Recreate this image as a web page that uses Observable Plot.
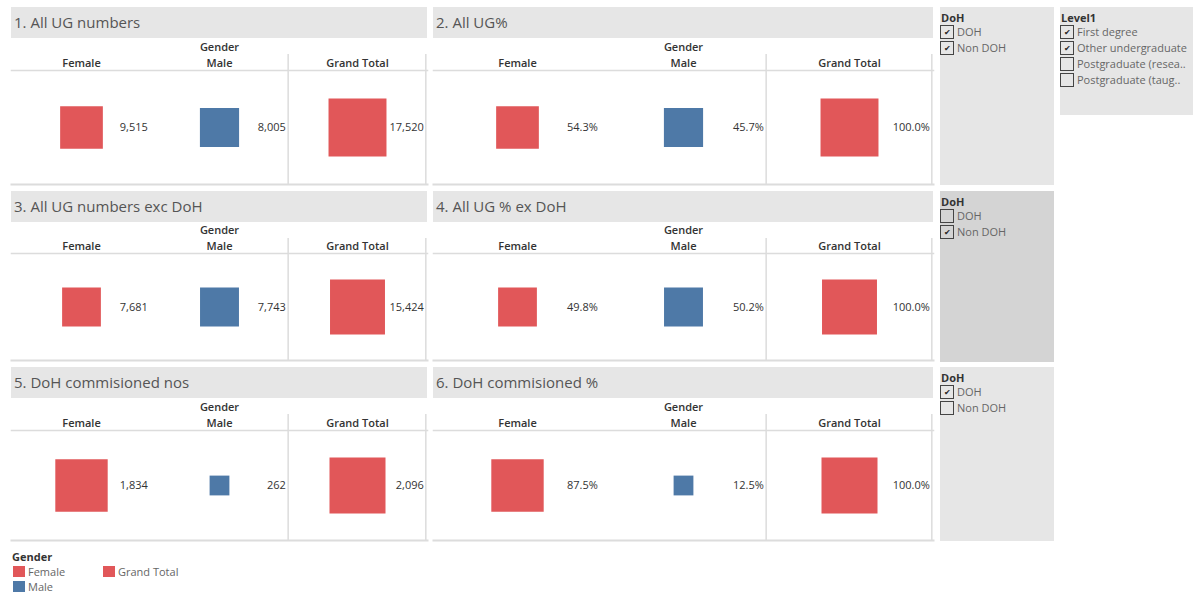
<!DOCTYPE html>
<html>
<head>
<meta charset="utf-8">
<script src="https://cdn.jsdelivr.net/npm/d3@7"></script>
<script src="https://cdn.jsdelivr.net/npm/@observablehq/plot@0.6"></script>
<style>
  html, body { margin: 0; padding: 0; background: #fff; }
  body { width: 1197px; height: 593px; position: relative; overflow: hidden; font-family: "Open Sans", "Noto Sans", sans-serif; }
  .abs { position: absolute; }
  .title { background: #e6e6e6; color: #555; font-size: 15px; line-height: 31px; height: 31px; padding-left: 3px; box-sizing: border-box; white-space: nowrap; }
  .filter { background: #e6e6e6; }
  .ftitle { position: absolute; left: 1px; top: 3px; font-size: 11px; font-weight: 700; color: #333; }
  .item { position: absolute; left: 0; height: 14px; font-size: 11px; color: #666; line-height: 14px; white-space: nowrap; }
  .box { display: inline-block; width: 12px; height: 12px; border: 1px solid #444; vertical-align: top; text-align: center; font-size: 8px; line-height: 12px; color: #222; margin-right: 3px; }
  .leg { font-size: 11px; color: #666; line-height: 13px; }
  .sw { display: inline-block; width: 12px; height: 11px; vertical-align: -1px; margin-right: 3px; }
</style>
</head>
<body>
<script>
// ---- data ----
const columns = ["Female", "Male", "Grand Total"];
const colors = ["#e15759", "#4e79a7", "#e15759"];
const panelTitles = [
  "1. All UG numbers", "2. All UG%",
  "3. All UG numbers exc DoH", "4. All UG % ex DoH",
  "5. DoH commisioned nos", "6. DoH commisioned %"
];
const allUG = [9515, 8005, 17520];
const allUGPct = [54.3, 45.7, 100.0];
const allUGexDoH = [7681, 7743, 15424];
const allUGexDoHPct = [49.8, 50.2, 100.0];
const dohNos = [1834, 262, 2096];
const dohPct = [87.5, 12.5, 100.0];
const panelValues = [allUG, allUGPct, allUGexDoH, allUGexDoHPct, dohNos, dohPct];
const panelIsPct = [false, true, false, true, false, true];

const dohFilterItems = ["DOH", "Non DOH"];
const dohFilterChecked = [[true, true], [false, true], [true, false]];
const level1Items = ["First degree", "Other undergraduate", "Postgraduate (resea..", "Postgraduate (taug.."];
const level1Checked = [true, true, false, false];

// ---- layout ----
const cols = [{left: 11, width: 416}, {left: 433, width: 500}];
const rows = [
  {titleTop: 7, svgTop: 38, hline: 70, vtop: 54, bottom: 185, rMax: 32.7},
  {titleTop: 191, svgTop: 222, hline: 253, vtop: 238, bottom: 361, rMax: 31},
  {titleTop: 367, svgTop: 398, hline: 430, vtop: 414, bottom: 541, rMax: 31.6}
];
const font = '"Open Sans", "Noto Sans", sans-serif';
const lineColor = "#dcdcdc";

function el(tag, cls, style, text) {
  const e = document.createElement(tag);
  if (cls) e.className = cls;
  Object.assign(e.style, style || {});
  if (text != null) e.textContent = text;
  document.body.appendChild(e);
  return e;
}

panelTitles.forEach((title, i) => {
  const r = rows[Math.floor(i / 2)];
  const c = cols[i % 2];
  el("div", "abs title", {left: c.left + "px", top: r.titleTop + "px", width: c.width + "px"}, title);

  const vals = panelValues[i];
  const pct = panelIsPct[i];
  const data = columns.map((col, j) => ({col, value: vals[j], label: pct ? d3.format(".1f")(vals[j]) + "%" : d3.format(",")(vals[j])}));
  const bw = c.width / columns.length;
  const chart = Plot.plot({
    width: c.width,
    height: r.bottom - r.svgTop,
    marginTop: r.hline - r.svgTop,
    marginBottom: 1,
    marginLeft: 0,
    marginRight: 0,
    x: {type: "band", domain: columns, padding: 0, axis: null},
    r: {domain: [0, d3.max(vals)], range: [0, r.rMax]},
    color: {domain: columns, range: colors},
    style: {fontFamily: font, fontSize: "11px", color: "#333", background: "transparent", overflow: "visible"},
    marks: [
      Plot.axisX({anchor: "top", label: "Gender", labelAnchor: "center", labelOffset: 27, tickSize: 0, tickPadding: 4, fontWeight: 600, fill: "#333"}),
      Plot.frame({anchor: "top", stroke: lineColor, strokeWidth: 1.5}),
      Plot.frame({anchor: "bottom", stroke: lineColor, strokeWidth: 2}),
      Plot.ruleX(["Grand Total"], {dx: -bw / 2, insetTop: -(r.hline - r.vtop), stroke: lineColor, strokeWidth: 1.5}),
      Plot.ruleX(["Grand Total"], {dx: bw / 2 - 1, insetTop: -(r.hline - r.vtop), stroke: lineColor, strokeWidth: 1.5}),
      Plot.dot(data, {x: "col", r: "value", fill: "col", symbol: "square", frameAnchor: "middle"}),
      Plot.text(data, {x: "col", text: "label", textAnchor: "end", dx: bw / 2 - 3, frameAnchor: "middle", fill: "#333", fontSize: 11})
    ]
  });
  const wrap = el("div", "abs", {left: c.left + "px", top: r.svgTop + "px"});
  wrap.appendChild(chart);
});

// ---- DoH filters ----
const dohBoxes = [
  {top: 7, height: 178, bg: "#e6e6e6"},
  {top: 191, height: 171, bg: "#d4d4d4"},
  {top: 367, height: 174, bg: "#e6e6e6"}
];
dohBoxes.forEach((b, k) => {
  const box = el("div", "abs filter", {left: "940px", top: b.top + "px", width: "114px", height: b.height + "px", background: b.bg});
  const t = document.createElement("div"); t.className = "ftitle"; t.textContent = "DoH"; box.appendChild(t);
  dohFilterItems.forEach((name, j) => {
    const it = document.createElement("div"); it.className = "item"; it.style.top = (18 + j * 16) + "px";
    it.innerHTML = `<span class="box">${dohFilterChecked[k][j] ? "✔" : ""}</span>${name}`;
    box.appendChild(it);
  });
});
// ---- Level1 filter ----
const lv = el("div", "abs filter", {left: "1060px", top: "7px", width: "133px", height: "108px"});
{
  const t = document.createElement("div"); t.className = "ftitle"; t.textContent = "Level1"; lv.appendChild(t);
  level1Items.forEach((name, j) => {
    const it = document.createElement("div"); it.className = "item"; it.style.top = (18 + j * 16) + "px";
    it.innerHTML = `<span class="box">${level1Checked[j] ? "✔" : ""}</span>${name}`;
    lv.appendChild(it);
  });
}

// ---- Legend ----
el("div", "abs", {left: "12px", top: "549px", fontSize: "11px", fontWeight: "700", color: "#333"}, "Gender");
const legPos = [{left: 13, top: 565}, {left: 13, top: 580}, {left: 103, top: 565}];
columns.forEach((name, j) => {
  const d = el("div", "abs leg", {left: legPos[j].left + "px", top: legPos[j].top + "px", whiteSpace: "nowrap"});
  d.innerHTML = `<span class="sw" style="background:${colors[j]}"></span>${name}`;
});
</script>
</body>
</html>
